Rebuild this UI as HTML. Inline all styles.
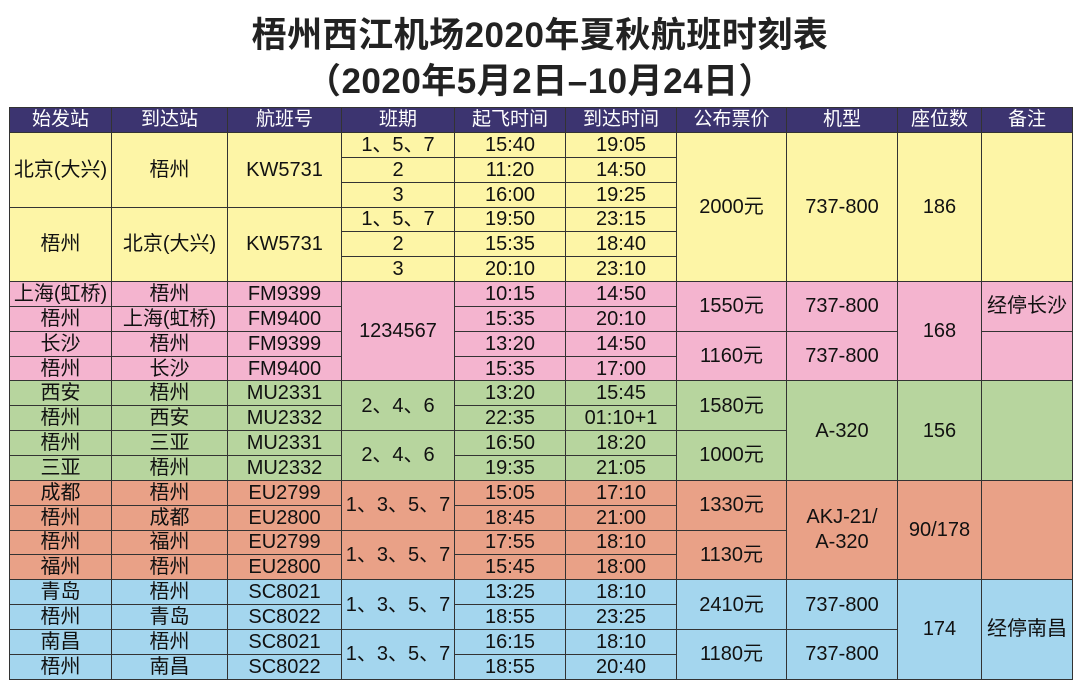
<!DOCTYPE html>
<html><head><meta charset="utf-8"><style>
body{margin:0;width:1080px;height:686px;background:#fff;font-family:"Liberation Sans","Noto Sans CJK SC",sans-serif;overflow:hidden;position:relative}
.t{position:absolute;left:0;width:1080px;text-align:center;font-weight:bold;font-size:35px;color:#222;font-family:"Liberation Sans","Noto Sans CJK SC",sans-serif;letter-spacing:0.5px}
table{position:absolute;left:9px;top:107px;border-collapse:collapse;table-layout:fixed;width:1063px}
td,th{border:1.5px solid #333;text-align:center;padding:0;font-size:20px;color:#111;height:23.85px;line-height:22px;white-space:nowrap;overflow:hidden}
th{background:#3c3470;color:#fff;font-weight:normal;font-size:19px;height:24px}
.y td{background:#fdf5a6}.p td{background:#f4b4cf}.g td{background:#b7d59e}.o td{background:#e9a187}.b td{background:#a4d6ee}
</style></head><body>
<div class="t" style="top:7px">梧州西江机场2020年夏秋航班时刻表</div>
<div class="t" style="top:53px">（2020年5月2日–10月24日）</div>
<table>
<colgroup><col style="width:102px"><col style="width:116px"><col style="width:114px"><col style="width:113px"><col style="width:111px"><col style="width:111px"><col style="width:110px"><col style="width:111px"><col style="width:84px"><col style="width:91px"></colgroup>
<tr><th>始发站</th><th>到达站</th><th>航班号</th><th>班期</th><th>起飞时间</th><th>到达时间</th><th>公布票价</th><th>机型</th><th>座位数</th><th>备注</th></tr>
<tbody class="y">
<tr><td rowspan="3">北京(大兴)</td><td rowspan="3">梧州</td><td rowspan="3">KW5731</td><td>1、5、7</td><td>15:40</td><td>19:05</td><td rowspan="6">2000元</td><td rowspan="6">737-800</td><td rowspan="6">186</td><td rowspan="6"></td></tr>
<tr><td>2</td><td>11:20</td><td>14:50</td></tr>
<tr><td>3</td><td>16:00</td><td>19:25</td></tr>
<tr><td rowspan="3">梧州</td><td rowspan="3">北京(大兴)</td><td rowspan="3">KW5731</td><td>1、5、7</td><td>19:50</td><td>23:15</td></tr>
<tr><td>2</td><td>15:35</td><td>18:40</td></tr>
<tr><td>3</td><td>20:10</td><td>23:10</td></tr>
</tbody>
<tbody class="p">
<tr><td>上海(虹桥)</td><td>梧州</td><td>FM9399</td><td rowspan="4">1234567</td><td>10:15</td><td>14:50</td><td rowspan="2">1550元</td><td rowspan="2">737-800</td><td rowspan="4">168</td><td rowspan="2">经停长沙</td></tr>
<tr><td>梧州</td><td>上海(虹桥)</td><td>FM9400</td><td>15:35</td><td>20:10</td></tr>
<tr><td>长沙</td><td>梧州</td><td>FM9399</td><td>13:20</td><td>14:50</td><td rowspan="2">1160元</td><td rowspan="2">737-800</td><td rowspan="2"></td></tr>
<tr><td>梧州</td><td>长沙</td><td>FM9400</td><td>15:35</td><td>17:00</td></tr>
</tbody>
<tbody class="g">
<tr><td>西安</td><td>梧州</td><td>MU2331</td><td rowspan="2">2、4、6</td><td>13:20</td><td>15:45</td><td rowspan="2">1580元</td><td rowspan="4">A-320</td><td rowspan="4">156</td><td rowspan="4"></td></tr>
<tr><td>梧州</td><td>西安</td><td>MU2332</td><td>22:35</td><td>01:10+1</td></tr>
<tr><td>梧州</td><td>三亚</td><td>MU2331</td><td rowspan="2">2、4、6</td><td>16:50</td><td>18:20</td><td rowspan="2">1000元</td></tr>
<tr><td>三亚</td><td>梧州</td><td>MU2332</td><td>19:35</td><td>21:05</td></tr>
</tbody>
<tbody class="o">
<tr><td>成都</td><td>梧州</td><td>EU2799</td><td rowspan="2">1、3、5、7</td><td>15:05</td><td>17:10</td><td rowspan="2">1330元</td><td rowspan="4" style="line-height:25px;white-space:normal">AKJ-21/<br>A-320</td><td rowspan="4">90/178</td><td rowspan="4"></td></tr>
<tr><td>梧州</td><td>成都</td><td>EU2800</td><td>18:45</td><td>21:00</td></tr>
<tr><td>梧州</td><td>福州</td><td>EU2799</td><td rowspan="2">1、3、5、7</td><td>17:55</td><td>18:10</td><td rowspan="2">1130元</td></tr>
<tr><td>福州</td><td>梧州</td><td>EU2800</td><td>15:45</td><td>18:00</td></tr>
</tbody>
<tbody class="b">
<tr><td>青岛</td><td>梧州</td><td>SC8021</td><td rowspan="2">1、3、5、7</td><td>13:25</td><td>18:10</td><td rowspan="2">2410元</td><td rowspan="2">737-800</td><td rowspan="4">174</td><td rowspan="4">经停南昌</td></tr>
<tr><td>梧州</td><td>青岛</td><td>SC8022</td><td>18:55</td><td>23:25</td></tr>
<tr><td>南昌</td><td>梧州</td><td>SC8021</td><td rowspan="2">1、3、5、7</td><td>16:15</td><td>18:10</td><td rowspan="2">1180元</td><td rowspan="2">737-800</td></tr>
<tr><td>梧州</td><td>南昌</td><td>SC8022</td><td>18:55</td><td>20:40</td></tr>
</tbody>
</table>
</body></html>
